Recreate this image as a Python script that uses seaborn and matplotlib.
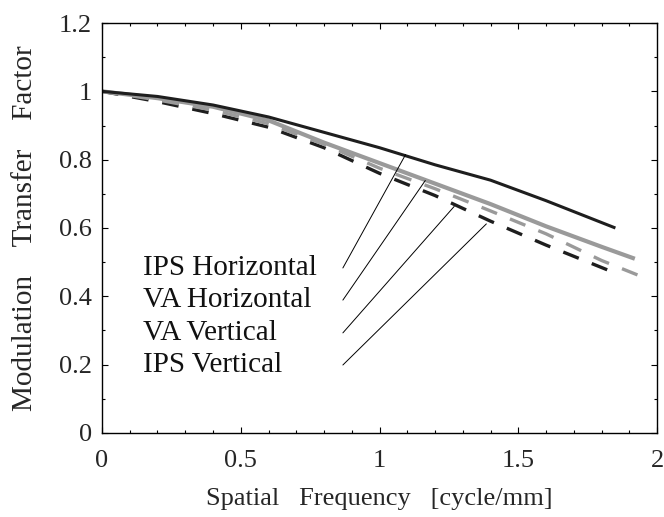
import numpy as np
import pandas as pd
import matplotlib
matplotlib.use("Agg")
import matplotlib.pyplot as plt
from matplotlib.ticker import MultipleLocator
import seaborn as sns

# MTF curves: spatial frequency (cycle/mm) vs modulation transfer factor
ips_h_x = [0.0, 0.2, 0.4, 0.6, 0.8, 1.0, 1.2, 1.4, 1.6, 1.85]
ips_h_y = [1.0, 0.985, 0.96, 0.925, 0.88, 0.835, 0.785, 0.74, 0.68, 0.60]

va_h_x = [0.0, 0.2, 0.4, 0.6, 0.8, 1.0, 1.2, 1.4, 1.6, 1.8, 1.92]
va_h_y = [1.0, 0.98, 0.955, 0.915, 0.85, 0.79, 0.73, 0.67, 0.605, 0.545, 0.51]

va_v_x = [0.0, 0.2, 0.4, 0.6, 0.8, 1.0, 1.2, 1.4, 1.6, 1.8, 1.95]
va_v_y = [1.0, 0.975, 0.945, 0.905, 0.845, 0.775, 0.715, 0.65, 0.583, 0.505, 0.456]

ips_v_x = [0.0, 0.2, 0.4, 0.6, 0.8, 1.0, 1.2, 1.4, 1.6, 1.85]
ips_v_y = [1.0, 0.97, 0.935, 0.895, 0.835, 0.76, 0.695, 0.62, 0.55, 0.468]

series_names = ["IPS Horizontal", "VA Horizontal", "VA Vertical", "IPS Vertical"]

x_ticks = [0, 0.5, 1, 1.5, 2]
x_tick_labels = ["0", "0.5", "1", "1.5", "2"]
y_ticks = [0, 0.2, 0.4, 0.6, 0.8, 1.0, 1.2]
y_tick_labels = ["0", "0.2", "0.4", "0.6", "0.8", "1", "1.2"]

# where each leader line meets its curve, and where its label sits
leader_end_x = [1.094, 1.165, 1.269, 1.385]
leader_end_y = [0.815, 0.739, 0.663, 0.612]
leader_start_x = 0.868
label_y = [0.483, 0.389, 0.293, 0.199]

frames = []
for name, xs, ys in zip(series_names,
                        [ips_h_x, va_h_x, va_v_x, ips_v_x],
                        [ips_h_y, va_h_y, va_v_y, ips_v_y]):
    frames.append(pd.DataFrame({"freq": xs, "mtf": ys, "series": name}))
df = pd.concat(frames, ignore_index=True)

sns.set_theme(style="white")
plt.rcParams["font.family"] = ["Liberation Serif", "DejaVu Serif"]

fig = plt.figure(figsize=(6.64, 5.17), dpi=100)
ax = fig.add_axes([0.1536, 0.1625, 0.8359, 0.793])

palette = {"IPS Horizontal": "#1e1e1e", "VA Horizontal": "#9a9a9a",
           "VA Vertical": "#9a9a9a", "IPS Vertical": "#1e1e1e"}
dash_pattern = {"IPS Horizontal": None, "VA Horizontal": None,
                "VA Vertical": (5.0, 4.2), "IPS Vertical": (5.0, 4.2)}
widths = {"IPS Horizontal": 2.2, "VA Horizontal": 3.0,
          "VA Vertical": 2.4, "IPS Vertical": 2.4}

# draw back-to-front so the dark solid curve stays on top
for name in ["IPS Vertical", "VA Vertical", "VA Horizontal", "IPS Horizontal"]:
    sub = df[df["series"] == name]
    sns.lineplot(data=sub, x="freq", y="mtf", ax=ax, color=palette[name],
                 linewidth=widths[name], legend=False, estimator=None)
    line = ax.lines[-1]
    if dash_pattern[name] is not None:
        line.set_dashes(dash_pattern[name])
    line.set_solid_capstyle("butt")
    line.set_dash_capstyle("butt")

for i, name in enumerate(series_names):
    ax.plot([leader_start_x, leader_end_x[i]], [label_y[i], leader_end_y[i]],
            color="black", linewidth=0.7)
    ax.text(0.148, label_y[i], name, fontsize=21, va="center", ha="left",
            color="#111111")

ax.set_xlim(0, 2)
ax.set_ylim(0, 1.2)
ax.set_xticks(x_ticks, x_tick_labels)
ax.set_yticks(y_ticks, y_tick_labels)
ax.xaxis.set_minor_locator(MultipleLocator(0.1))
ax.yaxis.set_minor_locator(MultipleLocator(0.1))
ax.tick_params(which="both", direction="in", top=True, right=True,
               bottom=True, left=True, color="black", width=0.8)
ax.tick_params(which="major", length=4, labelsize=19)
ax.tick_params(axis="x", which="major", pad=12)
ax.tick_params(axis="y", which="major", pad=7)
ax.tick_params(which="minor", length=2.5)
for s in ax.spines.values():
    s.set_color("black")
    s.set_linewidth(1.0)

ax.set_xlabel("Spatial   Frequency   [cycle/mm]", fontsize=19, labelpad=12)
ax.set_ylabel("Modulation    Transfer    Factor", fontsize=21)
ax.yaxis.set_label_coords(-0.115, 0.5)

fig.savefig("out.png", dpi=100)
